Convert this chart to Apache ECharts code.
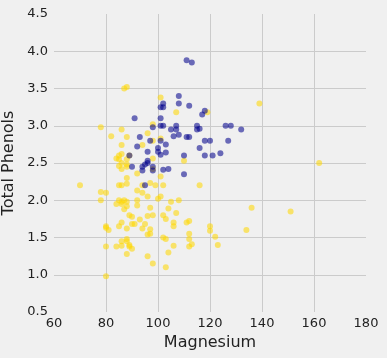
<!DOCTYPE html>
<html>
<head>
<meta charset="utf-8">
<script src="https://cdn.jsdelivr.net/npm/echarts@6/dist/echarts.min.js"></script>
<style>html,body{margin:0;padding:0;background:#f0f0f0;}#c{width:387px;height:358px;}</style>
</head>
<body>
<div id="c"></div>
<script>
// Class 1 wines (blue)
const class1Magnesium = [127,100,101,113,118,112,96,121,97,98,105,95,89,91,102,112,120,115,108,116,126,102,101,95,96,124,93,94,107,96,101,106,104,132,110,100,110,98,98,128,117,90,101,103,107,111,102,101,103,108,92,94,111,115,118,116,118,102,108];
const class1Phenols = [2.80,2.65,2.80,3.85,2.80,3.27,2.50,2.60,2.80,2.98,2.95,2.20,2.60,3.10,3.30,2.85,2.80,2.95,3.30,2.70,3.00,2.41,2.61,2.48,2.53,2.63,2.85,2.40,2.95,2.65,3.00,2.86,2.42,2.95,2.35,2.70,2.60,2.45,2.40,3.00,3.15,2.45,3.25,2.64,3.00,2.85,3.25,3.10,2.75,2.88,2.72,2.45,3.88,3.00,2.60,2.96,3.20,3.00,3.40];
// Other wines (gold)
const otherMagnesium = [88,101,100,94,87,104,98,78,78,110,151,103,86,87,139,101,97,86,112,136,101,86,86,78,85,94,99,90,88,84,70,81,86,80,88,98,162,134,85,88,88,97,88,98,86,85,90,80,84,92,94,107,88,103,88,84,85,86,108,80,87,96,119,102,86,82,85,86,92,88,80,
  122,104,98,106,85,94,89,96,88,101,96,89,97,92,112,102,80,86,92,113,123,112,116,98,103,93,89,97,98,89,88,107,106,106,90,88,111,88,105,112,96,86,91,95,102,120,120,96];
const otherPhenols = [1.98,2.05,2.02,2.10,3.50,1.89,2.42,2.98,2.11,2.53,1.85,1.10,2.95,1.88,3.30,3.38,1.61,1.95,1.72,1.90,2.83,2.42,2.20,2.00,1.65,2.20,2.20,1.78,1.92,1.95,2.20,1.60,1.45,1.38,2.45,3.02,2.50,1.60,2.55,3.52,2.85,2.23,1.45,2.56,2.50,2.20,1.68,1.65,1.38,2.36,2.74,3.18,2.55,1.75,2.48,2.56,2.46,1.98,2.00,1.63,2.00,2.90,3.18,2.20,2.62,2.86,2.60,2.74,2.13,2.22,2.10,
  1.51,1.30,1.15,1.70,2.00,1.62,1.38,1.79,1.62,2.32,1.54,1.40,1.55,2.00,1.38,1.50,0.98,1.70,1.93,1.41,1.40,1.48,2.20,1.80,1.48,1.74,1.80,1.90,2.80,2.60,2.30,1.83,1.65,1.39,1.35,1.28,1.70,1.48,1.98,1.55,1.25,1.39,1.68,1.68,1.80,1.59,1.65,2.05];
const xTicks = [60,80,100,120,140,160,180];
const yTicks = [0.5,1.0,1.5,2.0,2.5,3.0,3.5,4.0,4.5];

const pair = (xs, ys) => xs.map((x, i) => [x, ys[i]]);
const font = 'DejaVu Sans';
const chart = echarts.init(document.getElementById('c'), null, {renderer: 'canvas'});
chart.setOption({
  backgroundColor: '#f0f0f0',
  animation: false,
  grid: {left: 54, right: 21, top: 14, bottom: 46, containLabel: false, outerBoundsMode: 'none'},
  xAxis: {
    type: 'value', min: xTicks[0], max: xTicks[xTicks.length-1], interval: 20,
    name: 'Magnesium', nameLocation: 'middle', nameGap: 22,
    nameTextStyle: {fontFamily: font, fontSize: 16, color: '#222'},
    axisLine: {show: false}, axisTick: {show: false},
    axisLabel: {fontFamily: font, fontSize: 13, color: '#222', margin: 5},
    splitLine: {show: true, showMinLine: false, showMaxLine: false, lineStyle: {color: '#cbcbcb', width: 1}}
  },
  yAxis: {
    type: 'value', min: yTicks[0], max: yTicks[yTicks.length-1], interval: 0.5,
    name: 'Total Phenols', nameLocation: 'middle', nameGap: 23,
    nameTextStyle: {fontFamily: font, fontSize: 16, color: '#222'},
    axisLine: {show: false}, axisTick: {show: false},
    axisLabel: {fontFamily: font, fontSize: 13, color: '#222', margin: 6, formatter: v => v.toFixed(1)},
    splitLine: {show: true, showMinLine: false, showMaxLine: false, lineStyle: {color: '#cbcbcb', width: 1}}
  },
  series: [
    {type: 'scatter', data: pair(otherMagnesium, otherPhenols), symbolSize: 6,
     itemStyle: {color: 'rgba(255,215,0,0.7)'}},
    {type: 'scatter', data: pair(class1Magnesium, class1Phenols), symbolSize: 6,
     itemStyle: {color: 'rgba(0,0,139,0.7)'}}
  ]
});
</script>
</body>
</html>
